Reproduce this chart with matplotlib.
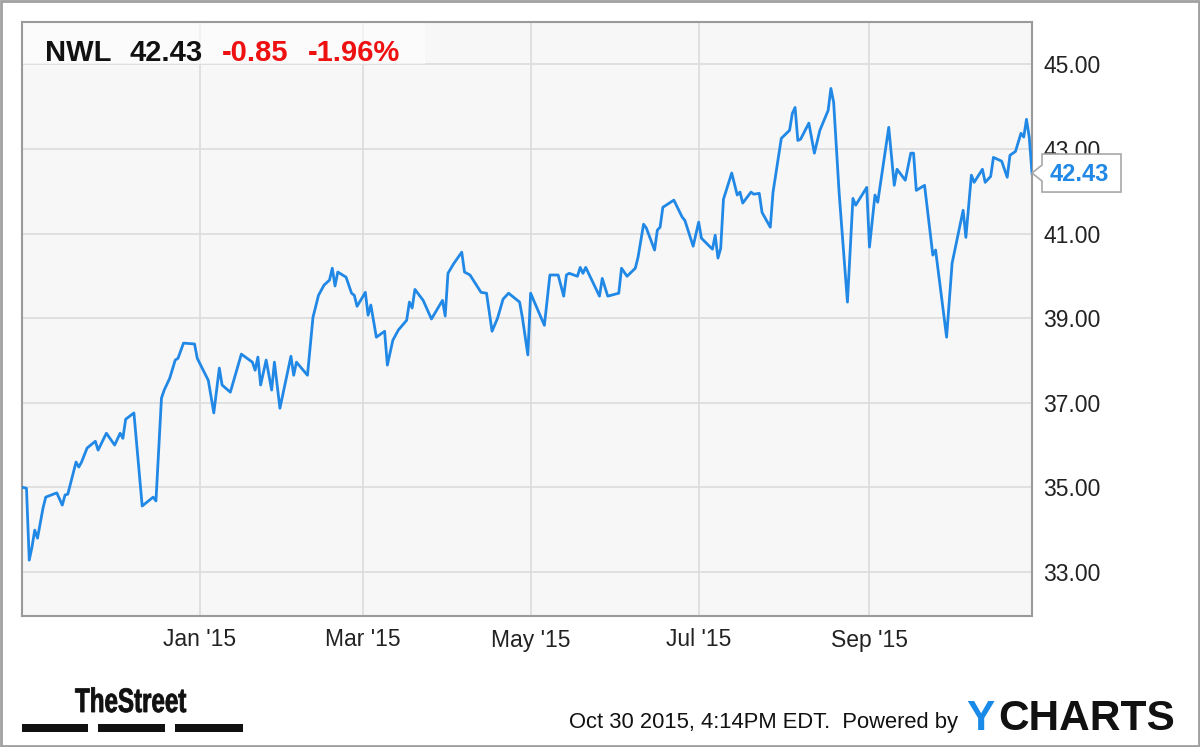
import matplotlib
matplotlib.use("Agg")
import matplotlib.pyplot as plt
import matplotlib.dates as mdates
from matplotlib.patches import Rectangle, Polygon, PathPatch
from matplotlib.textpath import TextPath
from matplotlib.font_manager import FontProperties
from matplotlib.transforms import Affine2D, IdentityTransform
import pandas as pd

ticker = "NWL"
last_price_label = "42.43"
change_label = "-0.85"
change_pct_label = "-1.96%"
footer_label = "Oct 30 2015, 4:14PM EDT.  Powered by"

dates = [
    "2014-10-28", "2014-10-30", "2014-10-31", "2014-11-01", "2014-11-02", "2014-11-03",
    "2014-11-05", "2014-11-06", "2014-11-10", "2014-11-12", "2014-11-13", "2014-11-14",
    "2014-11-17", "2014-11-18", "2014-11-19", "2014-11-21", "2014-11-24", "2014-11-25",
    "2014-11-28", "2014-12-01", "2014-12-03", "2014-12-04", "2014-12-05", "2014-12-08",
    "2014-12-11", "2014-12-15", "2014-12-16", "2014-12-18", "2014-12-19", "2014-12-21",
    "2014-12-23", "2014-12-24", "2014-12-26", "2014-12-30", "2014-12-31", "2015-01-04",
    "2015-01-06", "2015-01-08", "2015-01-09", "2015-01-12", "2015-01-14", "2015-01-16",
    "2015-01-20", "2015-01-21", "2015-01-22", "2015-01-23", "2015-01-25", "2015-01-27",
    "2015-01-28", "2015-01-30", "2015-02-03", "2015-02-04", "2015-02-05", "2015-02-09",
    "2015-02-11", "2015-02-13", "2015-02-15", "2015-02-17", "2015-02-18", "2015-02-19",
    "2015-02-20", "2015-02-23", "2015-02-25", "2015-02-26", "2015-02-27", "2015-03-02",
    "2015-03-03", "2015-03-04", "2015-03-06", "2015-03-09", "2015-03-10", "2015-03-12",
    "2015-03-14", "2015-03-17", "2015-03-18", "2015-03-19", "2015-03-20", "2015-03-23",
    "2015-03-26", "2015-03-30", "2015-03-31", "2015-04-01", "2015-04-03", "2015-04-06",
    "2015-04-07", "2015-04-09", "2015-04-13", "2015-04-15", "2015-04-17", "2015-04-19",
    "2015-04-21", "2015-04-23", "2015-04-27", "2015-04-28", "2015-04-30", "2015-05-01",
    "2015-05-06", "2015-05-08", "2015-05-11", "2015-05-13", "2015-05-14", "2015-05-15",
    "2015-05-18", "2015-05-19", "2015-05-20", "2015-05-21", "2015-05-26", "2015-05-27",
    "2015-05-29", "2015-06-02", "2015-06-03", "2015-06-05", "2015-06-08", "2015-06-09",
    "2015-06-11", "2015-06-12", "2015-06-15", "2015-06-16", "2015-06-17", "2015-06-18",
    "2015-06-22", "2015-06-25", "2015-06-26", "2015-06-29", "2015-07-01", "2015-07-02",
    "2015-07-06", "2015-07-07", "2015-07-08", "2015-07-09", "2015-07-10", "2015-07-13",
    "2015-07-15", "2015-07-16", "2015-07-17", "2015-07-20", "2015-07-21", "2015-07-23",
    "2015-07-24", "2015-07-27", "2015-07-28", "2015-07-31", "2015-08-03", "2015-08-04",
    "2015-08-05", "2015-08-06", "2015-08-07", "2015-08-10", "2015-08-12", "2015-08-14",
    "2015-08-17", "2015-08-18", "2015-08-19", "2015-08-21", "2015-08-24", "2015-08-26",
    "2015-08-27", "2015-08-31", "2015-09-01", "2015-09-03", "2015-09-04", "2015-09-08",
    "2015-09-10", "2015-09-11", "2015-09-14", "2015-09-16", "2015-09-17", "2015-09-18",
    "2015-09-21", "2015-09-24", "2015-09-25", "2015-09-29", "2015-10-01", "2015-10-05",
    "2015-10-06", "2015-10-08", "2015-10-09", "2015-10-12", "2015-10-13", "2015-10-15",
    "2015-10-16", "2015-10-19", "2015-10-21", "2015-10-22", "2015-10-24", "2015-10-26",
    "2015-10-27", "2015-10-28", "2015-10-29", "2015-10-30",
]
prices = [
    35.01, 34.98, 33.28, 33.59, 33.99, 33.80,
    34.51, 34.77, 34.87, 34.58, 34.82, 34.84,
    35.60, 35.48, 35.60, 35.93, 36.09, 35.88,
    36.28, 36.00, 36.28, 36.16, 36.61, 36.76,
    34.56, 34.77, 34.68, 37.11, 37.30, 37.58,
    38.01, 38.05, 38.41, 38.39, 38.05, 37.53,
    36.76, 37.82, 37.42, 37.25, 37.70, 38.15,
    37.96, 37.77, 38.08, 37.42, 38.01, 37.30,
    37.96, 36.87, 38.10, 37.65, 37.96, 37.65,
    39.02, 39.54, 39.78, 39.90, 40.18, 39.76,
    40.09, 39.97, 39.59, 39.54, 39.28, 39.61,
    39.07, 39.31, 38.55, 38.69, 37.89, 38.48,
    38.72, 38.95, 39.38, 39.24, 39.68, 39.42,
    38.98, 39.42, 39.05, 40.06, 40.28, 40.56,
    40.09, 40.02, 39.61, 39.59, 38.69, 39.00,
    39.45, 39.59, 39.38, 39.02, 38.13, 39.59,
    38.83, 40.02, 40.02, 39.52, 40.02, 40.06,
    39.99, 40.20, 40.06, 40.20, 39.52, 39.94,
    39.52, 39.59, 40.18, 39.99, 40.18, 40.44,
    41.22, 41.13, 40.61, 41.08, 41.15, 41.62,
    41.79, 41.39, 41.31, 40.70, 41.27, 40.89,
    40.63, 40.96, 40.42, 40.65, 41.81, 42.43,
    41.91, 41.98, 41.72, 41.98, 41.93, 41.95,
    41.50, 41.15, 41.98, 43.25, 43.44, 43.84,
    43.98, 43.20, 43.23, 43.61, 42.90, 43.44,
    43.91, 44.43, 44.10, 41.95, 39.38, 41.83,
    41.67, 42.09, 40.68, 41.91, 41.74, 43.51,
    42.14, 42.52, 42.26, 42.90, 42.90, 42.02,
    42.14, 40.49, 40.61, 38.55, 40.30, 41.55,
    40.91, 42.38, 42.21, 42.52, 42.21, 42.35,
    42.80, 42.71, 42.33, 42.85, 42.94, 43.37,
    43.28, 43.70, 43.28, 42.43,
]
y_ticks = [33, 35, 37, 39, 41, 43, 45]

LINE = "#2188e6"
FONT = "Liberation Sans"
plt.rcParams["font.family"] = [FONT, "DejaVu Sans"]

W, H = 1200, 747
fig = plt.figure(figsize=(W / 100, H / 100), dpi=100)
fig.patch.set_facecolor("white")

def fx(px):
    return px / W

def fy(py):
    return 1 - py / H

ax = fig.add_axes([fx(22), fy(616), fx(1032) - fx(22), fy(22) - fy(616)])
ax.set_facecolor("#f7f7f7")

x = pd.to_datetime(dates)
ax.plot(x, prices, color=LINE, lw=2.0, solid_joinstyle="round", zorder=3)

ax.set_xlim(pd.Timestamp("2014-10-28 09:00"), pd.Timestamp("2015-10-30"))
ax.set_ylim(31.96, 46.0)

ax.xaxis.set_major_locator(mdates.MonthLocator(bymonth=[1, 3, 5, 7, 9]))
ax.xaxis.set_major_formatter(mdates.DateFormatter("%b '%y"))
ax.set_yticks(y_ticks)
ax.set_yticklabels([f"{v:.2f}" for v in y_ticks])
ax.yaxis.tick_right()
ax.tick_params(axis="both", length=0, labelsize=16.5, colors="#222222")
ax.tick_params(axis="y", pad=8)
ax.tick_params(axis="x", pad=9)
ax.grid(True, color="#dcdcdc", lw=1.2, zorder=0)
ax.set_axisbelow(True)
for s in ax.spines.values():
    s.set_color("#9a9a9a")
    s.set_linewidth(1.5)

# header box
ax.add_patch(Rectangle((0, 1 - 42 / 594), 403 / 1010, 42 / 594, transform=ax.transAxes,
                       facecolor="white", alpha=0.6, edgecolor="none", zorder=2))
base = fy(61)
fig.text(fx(45), base, ticker, fontsize=21, fontweight="bold", color="#111111", va="baseline")
fig.text(fx(130), base, last_price_label, fontsize=21, fontweight="bold", color="#111111", va="baseline")
fig.text(fx(222), base, change_label, fontsize=21, fontweight="bold", color="#ee1111", va="baseline")
fig.text(fx(308), base, change_pct_label, fontsize=21, fontweight="bold", color="#ee1111", va="baseline")

# price tag
tx, ty = ax.transData.transform((mdates.date2num(x[-1]), prices[-1]))
tag = [(tx, ty), (tx + 10, ty + 8), (tx + 10, ty + 19), (tx + 89, ty + 19),
       (tx + 89, ty - 19), (tx + 10, ty - 19), (tx + 10, ty - 8)]
fig.add_artist(Polygon(tag, closed=True, transform=IdentityTransform(), facecolor="white",
                       edgecolor="#a8a8a8", lw=1.2, clip_on=False, zorder=5))
fig.text((tx + 47) / W, (ty - 1) / H, last_price_label, fontsize=17, fontweight="bold",
         color=LINE, ha="center", va="center", zorder=6)

# footer
fig.text(fx(958), fy(728), footer_label, fontsize=15.8, color="#111111", ha="right", va="baseline")
fig.text(fx(966), fy(730), "Y", fontsize=30.5, fontweight="bold", color="#1a8ae8", va="baseline")
fig.text(fx(998), fy(730), "CHARTS", fontsize=30.5, fontweight="bold", color="#111111", va="baseline")

# TheStreet logo
tp = TextPath((0, 0), "TheStreet", size=34, prop=FontProperties(family=FONT, weight="bold"))
trans = Affine2D().scale(0.71, 1.0).translate(75, H - 712)
fig.add_artist(PathPatch(tp, transform=trans + IdentityTransform(), facecolor="#111111",
                         edgecolor="#111111", lw=0.6, clip_on=False))
for x0, x1 in [(22, 88), (98, 165), (175, 243)]:
    fig.add_artist(Rectangle((fx(x0), fy(732)), fx(x1) - fx(x0), fy(724) - fy(732),
                             transform=fig.transFigure, facecolor="#111111", edgecolor="none"))

# outer border
fig.add_artist(Rectangle((0.001, 0.0015), 0.998, 0.997, transform=fig.transFigure,
                         facecolor="none", edgecolor="#a0a0a0", lw=2))

fig.savefig("out.png", dpi=100, facecolor="white")
